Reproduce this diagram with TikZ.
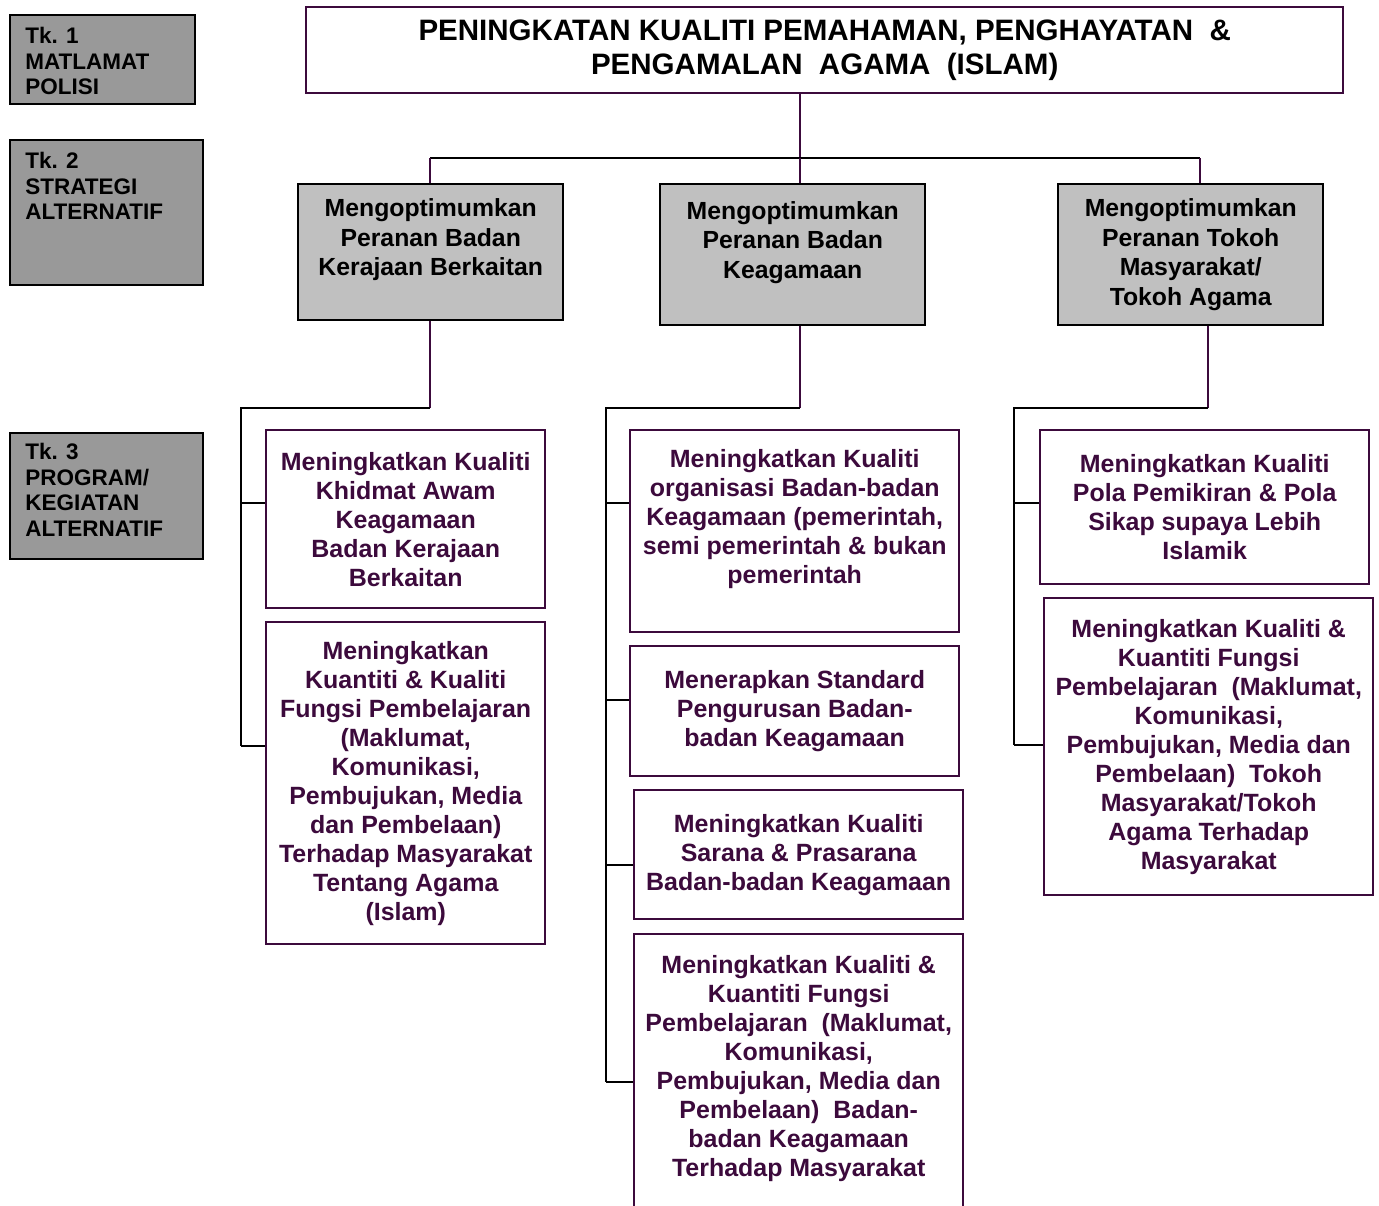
\documentclass[tikz,border=0pt]{standalone}
\usepackage{fontspec}
\setmainfont{Liberation Sans}
\usepackage{xcolor}
\usetikzlibrary{calc}
\definecolor{ungu}{RGB}{60,10,60}
\definecolor{kelabu}{RGB}{153,153,153}
\definecolor{kelabumuda}{RGB}{192,192,192}

\begin{document}
\begin{tikzpicture}[x=0.2mm, y=-0.2mm,
    tkkotak/.style={draw=black, fill=kelabu, line width=1.4pt, anchor=north west, inner sep=0pt},
    tkteks/.style={anchor=north west, align=left, inner sep=0pt, font=\bfseries\fontsize{12.8}{14.5}\selectfont},
    judulkotak/.style={draw=ungu, fill=white, line width=1.4pt, anchor=north west, align=center, inner sep=0pt, font=\bfseries\fontsize{16.8}{19.4}\selectfont},
    strategi/.style={draw=black, fill=kelabumuda, line width=1.4pt, anchor=north west, align=center, inner sep=0pt, minimum width=5.3cm, font=\bfseries\fontsize{14.1}{16.8}\selectfont},
    program/.style={draw=ungu, fill=white, text=ungu, line width=1.4pt, anchor=north west, align=center, inner sep=0pt, font=\bfseries\fontsize{14.2}{16.5}\selectfont},
    garis/.style={line width=1.1pt, black},
    garisungu/.style={line width=1.1pt, ungu}]

    \useasboundingbox (0,0) rectangle (1379,1205);

    % Tahap di kiri
    \node[tkkotak, minimum width=3.7cm, minimum height=1.78cm] (tk1) at (9,14) {};
    \node[tkkotak, minimum width=3.86cm, minimum height=2.9cm] (tk2) at (9,139) {};
    \node[tkkotak, minimum width=3.86cm, minimum height=2.52cm] (tk3) at (9,432) {};
    \node[tkteks] (tk1teks) at (25,27) {Tk. 1\\MATLAMAT\\POLISI};
    \node[tkteks] (tk2teks) at (25,152) {Tk. 2\\STRATEGI\\ALTERNATIF};
    \node[tkteks] (tk3teks) at (25,443) {Tk. 3\\PROGRAM/\\KEGIATAN\\ALTERNATIF};

    % Matlamat polisi
    \node[judulkotak, minimum width=20.74cm, minimum height=1.72cm] (judul) at (305,6)
        {PENINGKATAN KUALITI PEMAHAMAN, PENGHAYATAN\ \ \&\\PENGAMALAN\ \ AGAMA\ \ (ISLAM)};

    % Strategi alternatif
    \node[strategi, minimum height=2.72cm] (s1) at (297,183) {Mengoptimumkan\\Peranan Badan\\Kerajaan Berkaitan\\\mbox{}};
    \node[strategi, minimum height=2.82cm] (s2) at (659,183) {Mengoptimumkan\\Peranan Badan\\Keagamaan\\\mbox{}};
    \node[strategi, minimum height=2.82cm] (s3) at (1057,183) {Mengoptimumkan\\Peranan Tokoh\\Masyarakat/\\Tokoh Agama};

    % Program / kegiatan alternatif
    \node[program, minimum width=5.58cm, minimum height=3.56cm] (p11) at (265,429)
        {Meningkatkan Kualiti\\Khidmat Awam\\Keagamaan\\Badan Kerajaan\\Berkaitan};
    \node[program, minimum width=5.58cm, minimum height=6.44cm] (p12) at (265,621)
        {Meningkatkan\\Kuantiti \& Kualiti\\Fungsi Pembelajaran\\(Maklumat,\\Komunikasi,\\Pembujukan, Media\\dan Pembelaan)\\Terhadap Masyarakat\\Tentang Agama\\(Islam)};
    \node[program, minimum width=6.58cm, minimum height=4.04cm] (p21) at (629,429)
        {Meningkatkan Kualiti\\organisasi Badan-badan\\Keagamaan (pemerintah,\\semi pemerintah \& bukan\\pemerintah\\\mbox{}};
    \node[program, minimum width=6.58cm, minimum height=2.6cm] (p22) at (629,645)
        {Menerapkan Standard\\Pengurusan Badan-\\badan Keagamaan};
    \node[program, minimum width=6.58cm, minimum height=2.58cm] (p23) at (633,789)
        {Meningkatkan Kualiti\\Sarana \& Prasarana\\Badan-badan Keagamaan};
    \node[program, minimum width=6.58cm, minimum height=5.84cm] (p24) at (633,933)
        {Meningkatkan Kualiti \&\\Kuantiti Fungsi\\Pembelajaran\ \ (Maklumat,\\Komunikasi,\\Pembujukan, Media dan\\Pembelaan)\ \ Badan-\\badan Keagamaan\\Terhadap Masyarakat\\\mbox{}};
    \node[program, minimum width=6.58cm, minimum height=3.08cm] (p31) at (1039,429)
        {Meningkatkan Kualiti\\Pola Pemikiran \& Pola\\Sikap supaya Lebih\\Islamik};
    \node[program, minimum width=6.58cm, minimum height=5.94cm] (p32) at (1043,597)
        {Meningkatkan Kualiti \&\\Kuantiti Fungsi\\Pembelajaran\ \ (Maklumat,\\Komunikasi,\\Pembujukan, Media dan\\Pembelaan)\ \ Tokoh\\Masyarakat/Tokoh\\Agama Terhadap\\Masyarakat};

    % Tk. 1 ke Tk. 2
    \coordinate (cabang) at (800,158);
    \coordinate (c1) at (430,158);
    \coordinate (c3) at (1200,158);
    \draw[garisungu] (judul.south -| cabang) -- (cabang);
    \draw[garis] (c1) -- (c3);
    \draw[garisungu] (c1) -- (c1 |- s1.north);
    \draw[garisungu] (cabang) -- (cabang |- s2.north);
    \draw[garisungu] (c3) -- (c3 |- s3.north);

    % Tk. 2 ke Tk. 3
    \coordinate (j1) at (430,408);   \coordinate (bus1) at (241,408);
    \coordinate (j2) at (800,408);   \coordinate (bus2) at (606,408);
    \coordinate (j3) at (1208,408);  \coordinate (bus3) at (1014,408);
    \coordinate (k11) at (241,503);  \coordinate (k12) at (241,746);
    \coordinate (k21) at (606,503);  \coordinate (k22) at (606,700);
    \coordinate (k23) at (606,865);  \coordinate (k24) at (606,1082);
    \coordinate (k31) at (1014,503); \coordinate (k32) at (1014,745);

    \draw[garisungu] (j1 |- s1.south) -- (j1);
    \draw[garisungu] (j2 |- s2.south) -- (j2);
    \draw[garisungu] (j3 |- s3.south) -- (j3);
    \draw[garis] (j1) -- (bus1) -- (k12);
    \draw[garis] (j2) -- (bus2) -- (k24);
    \draw[garis] (j3) -- (bus3) -- (k32);
    \foreach \k/\p in {k11/p11, k12/p12, k21/p21, k22/p22, k23/p23, k24/p24, k31/p31, k32/p32}
        \draw[garis] (\k) -- (\k -| \p.west);
\end{tikzpicture}
\end{document}
